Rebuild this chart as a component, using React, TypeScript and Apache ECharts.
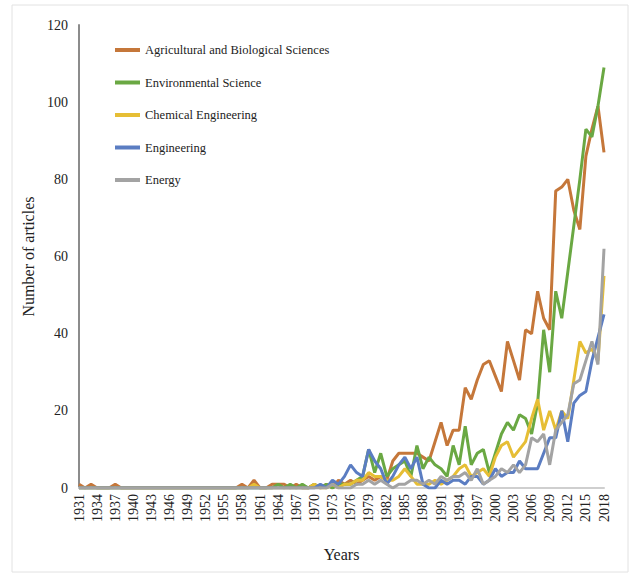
import React, { useEffect, useRef } from "react";
import * as echarts from "echarts";

const years: string[] = [
  "1931","1932","1933","1934","1935","1936","1937","1938","1939","1940",
  "1941","1942","1943","1944","1945","1946","1947","1948","1949","1950",
  "1951","1952","1953","1954","1955","1956","1957","1958","1959","1960",
  "1961","1962","1963","1964","1965","1966","1967","1968","1969","1970",
  "1971","1972","1973","1974","1975","1976","1977","1978","1979","1980",
  "1981","1982","1983","1984","1985","1986","1987","1988","1989","1990",
  "1991","1992","1993","1994","1995","1996","1997","1998","1999","2000",
  "2001","2002","2003","2004","2005","2006","2007","2008","2009","2010",
  "2011","2012","2013","2014","2015","2016","2017","2018",
];

const agricultural: number[] = [
  1,0,1,0,0,0,1,0,0,0,
  0,0,0,0,0,0,0,0,0,0,
  0,0,0,0,0,0,0,1,0,2,
  0,0,1,1,1,0,1,0,0,1,
  0,1,0,2,1,2,1,2,3,2,
  3,2,7,9,9,9,9,8,7,12,
  17,11,15,15,26,23,28,32,33,29,
  25,38,33,28,41,40,51,44,41,77,
  78,80,72,67,86,93,99,87,
];

const environmental: number[] = [
  0,0,0,0,0,0,0,0,0,0,
  0,0,0,0,0,0,0,0,0,0,
  0,0,0,0,0,0,0,0,0,0,
  0,0,0,1,0,1,0,1,0,1,
  0,1,0,1,1,1,2,3,10,4,
  9,3,5,6,7,3,11,5,8,6,
  5,3,11,6,16,6,9,10,4,9,
  14,17,15,19,18,14,22,41,30,51,
  44,56,68,80,93,91,99,109,
];

const chemical: number[] = [
  0,0,0,0,0,0,0,0,0,0,
  0,0,0,0,0,0,0,0,0,0,
  0,0,0,0,0,0,0,0,0,1,
  0,0,0,0,0,0,0,0,0,1,
  0,0,1,0,1,1,2,2,4,3,
  3,2,2,3,5,3,1,1,1,2,
  1,2,3,5,6,3,4,5,3,8,
  11,12,8,10,12,18,23,15,20,15,
  20,18,28,38,35,36,33,55,
];

const engineering: number[] = [
  0,0,0,0,0,0,0,0,0,0,
  0,0,0,0,0,0,0,0,0,0,
  0,0,0,0,0,0,0,0,0,0,
  0,0,0,0,0,0,0,0,0,0,
  1,0,2,1,3,6,4,3,10,7,
  5,1,3,6,8,5,8,1,0,0,
  2,1,2,2,1,3,3,1,2,5,
  3,4,4,7,5,5,5,9,13,13,
  20,12,22,24,25,33,39,45,
];

const energy: number[] = [
  0,0,0,0,0,0,0,0,0,0,
  0,0,0,0,0,0,0,0,0,0,
  0,0,0,0,0,0,0,0,0,0,
  0,0,0,0,0,0,0,0,0,0,
  0,0,1,0,0,0,1,1,2,1,
  2,1,0,1,1,2,2,1,2,1,
  3,2,3,3,4,2,5,1,2,3,
  5,4,6,4,6,13,12,14,6,15,
  17,19,27,28,33,38,32,62,
];

const seriesNames = [
  "Agricultural and Biological Sciences",
  "Environmental Science",
  "Chemical Engineering",
  "Engineering",
  "Energy",
];
const seriesData = [agricultural, environmental, chemical, engineering, energy];
const colors = ["#C5773A", "#6AA843", "#E6BE35", "#5B7DC2", "#A3A3A3"];

const FONT = "'Liberation Serif', 'Times New Roman', serif";

export default function App() {
  const ref = useRef<HTMLDivElement>(null);
  useEffect(() => {
    if (!ref.current) return;
    const chart = echarts.init(ref.current, undefined, { renderer: "svg" });
    chart.setOption({
      animation: false,
      backgroundColor: "#ffffff",
      color: colors,
      textStyle: { fontFamily: FONT },
      graphic: [
        {
          type: "rect",
          shape: { x: 12, y: 5, width: 616, height: 567 },
          style: { fill: "none", stroke: "#e2e2e2", lineWidth: 1 },
          silent: true,
          z: -1,
        },
      ],
      grid: { left: 79, right: 33, top: 25, bottom: 88 },
      legend: {
        orient: "vertical",
        left: 115,
        top: 43,
        padding: 0,
        icon: "rect",
        itemWidth: 25,
        itemHeight: 4,
        itemGap: 18.5,
        textStyle: { fontFamily: FONT, fontSize: 12.5, color: "#222", lineHeight: 14 },
        data: seriesNames,
      },
      xAxis: {
        type: "category",
        data: years,
        boundaryGap: false,
        name: "Years",
        nameLocation: "middle",
        nameGap: 58,
        nameTextStyle: { fontFamily: FONT, fontSize: 16, color: "#222" },
        axisLine: { lineStyle: { color: "#cfcfcf", width: 2 } },
        axisTick: { show: false },
        axisLabel: {
          interval: 2,
          rotate: 90,
          fontFamily: FONT,
          fontSize: 14,
          color: "#222",
          margin: 6,
        },
        splitLine: { show: false },
      },
      yAxis: {
        type: "value",
        min: 0,
        max: 120,
        interval: 20,
        name: "Number of articles",
        nameLocation: "middle",
        nameGap: 38,
        nameTextStyle: { fontFamily: FONT, fontSize: 16, color: "#222" },
        axisLine: { show: true, lineStyle: { color: "#8c8c8c", width: 2 } },
        axisTick: { show: false },
        axisLabel: { fontFamily: FONT, fontSize: 14, color: "#222", margin: 11 },
        splitLine: { show: false },
      },
      series: seriesNames.map((name, i) => ({
        name,
        type: "line",
        data: seriesData[i],
        showSymbol: false,
        symbol: "none",
        lineStyle: { width: 3, color: colors[i] },
        itemStyle: { color: colors[i] },
      })),
    });
    return () => chart.dispose();
  }, []);
  return (
    <div
      ref={ref}
      style={{ position: "fixed", left: 0, top: 0, width: 637, height: 576 }}
    />
  );
}
